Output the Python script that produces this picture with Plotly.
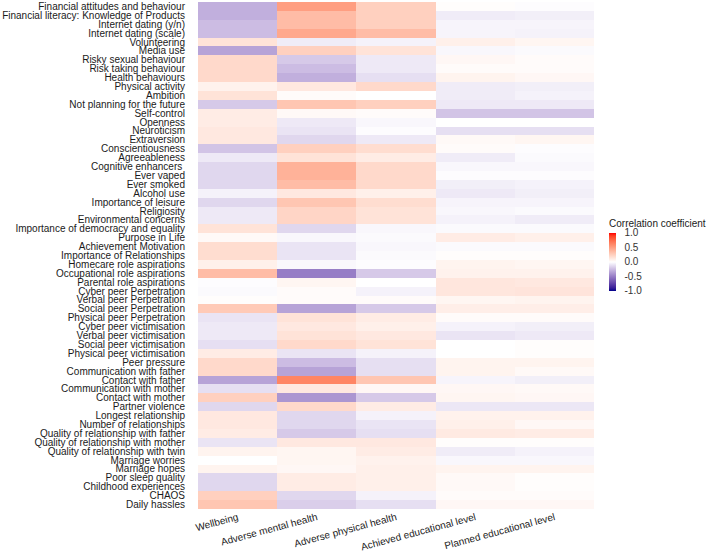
import plotly.graph_objects as go
import numpy as np

outcomes = ["Wellbeing", "Adverse mental health", "Adverse physical health",
            "Achieved educational level", "Planned educational level"]

predictors = [
    "Financial attitudes and behaviour", "Financial literacy: Knowledge of Products",
    "Internet dating (y/n)", "Internet dating (scale)", "Volunteering", "Media use",
    "Risky sexual behaviour", "Risk taking behaviour", "Health behaviours",
    "Physical activity", "Ambition", "Not planning for the future", "Self-control",
    "Openness", "Neuroticism", "Extraversion", "Conscientiousness", "Agreeableness",
    "Cognitive enhancers ", "Ever vaped", "Ever smoked", "Alcohol use",
    "Importance of leisure", "Religiosity", "Environmental concerns",
    "Importance of democracy and equality", "Purpose in Life", "Achievement Motivation",
    "Importance of Relationships", "Homecare role aspirations",
    "Occupational role aspirations", "Parental role aspirations",
    "Cyber peer Perpetration", "Verbal peer Perpetration", "Social peer Perpetration",
    "Physical peer Perpetration", "Cyber peer victimisation", "Verbal peer victimisation",
    "Social peer victimisation", "Physical peer victimisation", "Peer pressure",
    "Communication with father", "Contact with father", "Communication with mother",
    "Contact with mother", "Partner violence", "Longest relationship",
    "Number of relationships", "Quality of relationship with father",
    "Quality of relationship with mother", "Quality of relationship with twin",
    "Marriage worries", "Marriage hopes", "Poor sleep quality", "Childhood experiences",
    "CHAOS", "Daily hassles",
]

wellbeing = [-0.30, -0.30, -0.25, -0.25, 0.15, -0.35, 0.20, 0.20, 0.20, 0.07,
             0.15, -0.20, 0.10, 0.10, 0.12, 0.12, -0.22, -0.08, -0.15, -0.15,
             -0.15, -0.05, -0.15, -0.08, -0.08, 0.15, 0.03, 0.18, 0.18, 0.08,
             0.35, -0.01, -0.02, 0.01, 0.28, -0.10, -0.08, -0.08, -0.12, 0.10,
             0.20, 0.20, -0.35, -0.12, 0.25, -0.15, 0.12, 0.12, 0.10, -0.10,
             0.06, 0.00, 0.06, -0.15, -0.15, 0.25, 0.30]

adverse_mental = [0.50, 0.35, 0.35, 0.45, -0.07, 0.25, -0.20, -0.25, -0.30, 0.12,
                  0.02, 0.30, 0.03, -0.08, -0.10, -0.15, 0.25, 0.15, 0.40, 0.40,
                  0.35, 0.12, 0.30, 0.22, 0.22, -0.15, -0.03, -0.10, -0.10, -0.03,
                  -0.50, 0.05, 0.02, 0.02, -0.35, 0.15, 0.12, 0.15, 0.20, -0.10,
                  -0.25, -0.35, 0.62, 0.12, -0.40, 0.20, -0.15, -0.15, -0.20, 0.12,
                  0.05, 0.05, 0.04, 0.10, 0.10, -0.15, -0.18]

adverse_physical = [0.25, 0.25, 0.25, 0.35, -0.05, 0.15, -0.08, -0.08, -0.12, 0.20,
                    0.00, 0.25, 0.02, -0.03, -0.01, -0.08, 0.18, 0.10, 0.20, 0.20,
                    0.20, 0.08, 0.18, 0.15, 0.15, -0.03, -0.02, -0.03, -0.02, -0.01,
                    -0.20, 0.00, -0.05, 0.02, -0.20, 0.10, 0.08, 0.12, 0.15, -0.05,
                    -0.12, -0.12, 0.30, 0.04, -0.20, 0.10, -0.05, -0.10, -0.12, 0.12,
                    0.10, 0.07, 0.08, 0.08, 0.08, -0.05, -0.12]

achieved_edu = [0.01, -0.07, -0.04, -0.04, 0.08, -0.03, 0.04, 0.02, 0.06, -0.07,
                -0.07, -0.08, -0.22, 0.00, -0.12, 0.03, 0.02, -0.07, -0.03, -0.01,
                -0.06, -0.08, -0.04, -0.03, -0.05, -0.02, 0.10, -0.02, 0.01, 0.06,
                0.07, 0.13, 0.13, 0.05, 0.09, 0.02, -0.05, -0.10, 0.00, 0.00,
                0.06, 0.06, -0.04, 0.04, 0.05, -0.09, 0.07, 0.08, 0.11, 0.01,
                -0.07, -0.03, 0.06, 0.03, 0.03, 0.02, 0.04]

planned_edu = [-0.01, -0.06, -0.04, -0.05, 0.05, -0.02, 0.02, 0.02, 0.04, -0.06,
               -0.05, -0.08, -0.22, 0.00, -0.12, 0.05, -0.01, -0.02, -0.03, -0.01,
               -0.05, -0.06, -0.04, -0.02, -0.07, -0.02, 0.08, -0.02, 0.01, 0.05,
               0.07, 0.12, 0.14, 0.06, 0.09, 0.02, -0.06, -0.08, 0.01, 0.01,
               0.06, 0.03, -0.06, 0.03, 0.04, -0.09, 0.07, 0.04, 0.10, 0.01,
               -0.05, -0.03, 0.06, 0.01, 0.01, 0.02, 0.04]

cb_ticks = [1.0, 0.5, 0.0, -0.5, -1.0]
cb_ticktext = ["1.0", "0.5", "0.0", "-0.5", "-1.0"]


# ---- colour scale: ggplot2 gradient2 (darkblue - white - red) interpolated in Lab ----
def srgb_to_lin(c):
    c = c / 255.0
    return np.where(c <= 0.04045, c / 12.92, ((c + 0.055) / 1.055) ** 2.4)


def lin_to_srgb(c):
    c = np.clip(c, 0, 1)
    return np.where(c <= 0.0031308, 12.92 * c, 1.055 * c ** (1 / 2.4) - 0.055) * 255


M = np.array([[0.4124, 0.3576, 0.1805], [0.2126, 0.7152, 0.0722], [0.0193, 0.1192, 0.9505]])
Minv = np.linalg.inv(M)
WP = np.array([0.95047, 1.0, 1.08883])


def f(t):
    return np.where(t > (6 / 29) ** 3, np.cbrt(t), t / (3 * (6 / 29) ** 2) + 4 / 29)


def finv(t):
    return np.where(t > 6 / 29, t ** 3, 3 * (6 / 29) ** 2 * (t - 4 / 29))


def rgb_to_lab(rgb):
    xyz = M @ srgb_to_lin(np.array(rgb, float)) / WP
    fx, fy, fz = f(xyz)
    return np.array([116 * fy - 16, 500 * (fx - fy), 200 * (fy - fz)])


def lab_to_rgb(lab):
    L, a, b = lab
    fy = (L + 16) / 116
    fx = fy + a / 500
    fz = fy - b / 200
    xyz = finv(np.array([fx, fy, fz])) * WP
    return lin_to_srgb(Minv @ xyz)


low = rgb_to_lab((0, 0, 139))
mid = rgb_to_lab((255, 255, 255))
high = rgb_to_lab((255, 0, 0))
colorscale = []
n = 20
for i in range(n + 1):
    t = i / n
    if t <= 0.5:
        s = t / 0.5
        lab = low * (1 - s) + mid * s
    else:
        s = (t - 0.5) / 0.5
        lab = mid * (1 - s) + high * s
    r, g, b = lab_to_rgb(lab)
    colorscale.append([t, f"rgb({int(round(r))},{int(round(g))},{int(round(b))})"])

z = np.array([wellbeing, adverse_mental, adverse_physical, achieved_edu, planned_edu]).T

fig = go.Figure(go.Heatmap(
    z=z, x=outcomes, y=predictors,
    zmin=-1, zmax=1, colorscale=colorscale,
    colorbar=dict(
        title=dict(text="Correlation coefficient", side="top",
                   font=dict(size=10, color="#1a1a1a")),
        thickness=7, thicknessmode="pixels",
        len=74, lenmode="pixels",
        x=1.038, xanchor="left", y=0.43, yanchor="bottom",
        ypad=0, xpad=0,
        tickvals=cb_ticks, ticktext=cb_ticktext,
        ticks="outside", ticklen=7, tickcolor="rgba(0,0,0,0)",
        tickfont=dict(size=10, color="#333333"),
        outlinewidth=0,
    ),
))

fig.update_layout(
    width=709, height=552,
    margin=dict(l=198, r=115, t=2, b=43, autoexpand=False),
    plot_bgcolor="white", paper_bgcolor="white",
    font=dict(family="Liberation Sans, Arial, sans-serif", size=10, color="#1a1a1a"),
)
fig.update_yaxes(autorange="reversed", showgrid=False, zeroline=False,
                 tickmode="array", tickvals=predictors, ticktext=predictors,
                 ticks="outside", ticklen=10, tickcolor="rgba(0,0,0,0)",
                 automargin=False,
                 tickfont=dict(size=10, color="#1a1a1a"))
fig.update_xaxes(showgrid=False, zeroline=False, tickangle=-15,
                 ticks="", automargin=False,
                 tickfont=dict(size=10, color="#1a1a1a"))

fig.write_html("out.html", post_script="document.body.style.margin='0';",
               config={"displayModeBar": False})
